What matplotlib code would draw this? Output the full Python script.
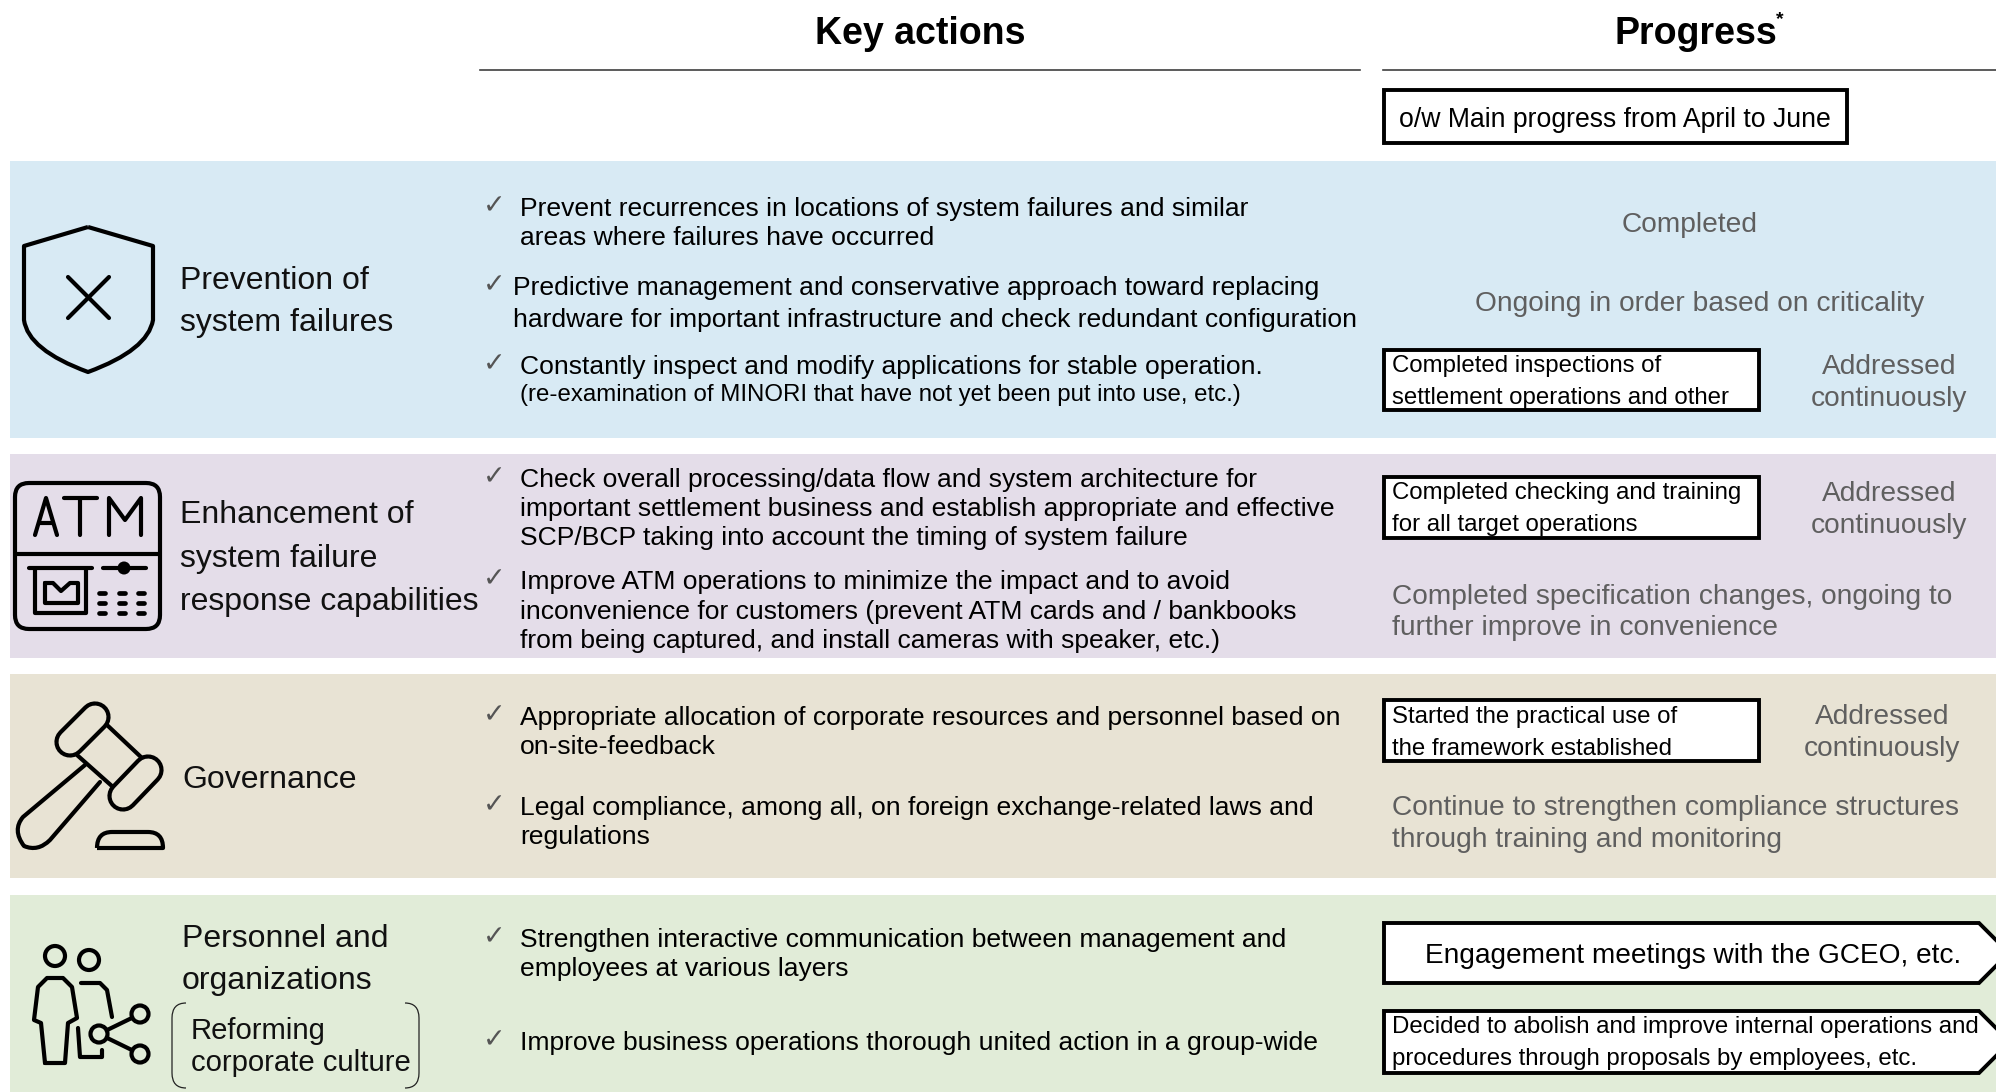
import matplotlib
matplotlib.use('Agg')
import matplotlib.pyplot as plt
from matplotlib.patches import Rectangle, Circle, FancyBboxPatch, Polygon, PathPatch
from matplotlib.path import Path

plt.rcParams['font.family'] = ['Liberation Sans', 'DejaVu Sans']

# colours of the four rows
band_colors = ['#D8EAF4', '#E4DDE9', '#E8E3D4', '#E1ECD8']
band_tops = [161, 454, 674, 895]
band_bottoms = [438, 658, 878, 1092]

# left hand labels
label_lines = ['Prevention of', 'system failures',
               'Enhancement of', 'system failure', 'response capabilities',
               'Governance',
               'Personnel and', 'organizations']
label_x = [180, 180, 180, 180, 180, 182, 182, 182]
label_y = [281, 323, 515, 559, 602, 780, 939, 981]

culture_lines = ['Reforming', 'corporate culture']
culture_y = [1031, 1063]

# key actions, one entry per drawn line
action_lines = [
    'Prevent recurrences in locations of system failures and similar',
    'areas where failures have occurred',
    'Predictive management and conservative approach toward replacing',
    'hardware for important infrastructure and check redundant configuration',
    'Constantly inspect and modify applications for stable operation.',
    'Check overall processing/data flow and system architecture for',
    'important settlement business and establish appropriate and effective',
    'SCP/BCP taking into account the timing of system failure',
    'Improve ATM operations to minimize the impact and to avoid',
    'inconvenience for customers (prevent ATM cards and / bankbooks',
    'from being captured, and install cameras with speaker, etc.)',
    'Appropriate allocation of corporate resources and personnel based on',
    'on-site-feedback',
    'Legal compliance, among all, on foreign exchange-related laws and',
    'regulations',
    'Strengthen interactive communication between management and',
    'employees at various layers',
    'Improve business operations thorough united action in a group-wide',
]
action_x = [520, 520, 513, 513, 520, 520, 520, 520, 520, 520, 520, 520, 520, 520, 520, 520, 520, 520]
action_y = [209, 238, 288, 320, 367, 480, 509, 538, 582, 612, 641, 718, 747, 808, 837, 940, 969, 1043]
note_line = '(re-examination of MINORI that have not yet been put into use, etc.)'
check_y = [206, 285, 364, 477, 579, 715, 805, 937, 1040]

# progress, grey text
grey_center = ['Completed', 'Ongoing in order based on criticality',
               'Addressed', 'continuously', 'Addressed', 'continuously', 'Addressed', 'continuously']
grey_center_x = [1690, 1700, 1889, 1889, 1889, 1889, 1882, 1882]
grey_center_y = [225, 304, 367, 399, 494, 526, 717, 749]
grey_left = ['Completed specification changes, ongoing to', 'further improve in convenience',
             'Continue to strengthen compliance structures', 'through training and monitoring']
grey_left_y = [597, 628, 808, 840]

# progress, text in boxes
box_lines = ['Completed inspections of', 'settlement operations and other',
             'Completed checking and training', 'for all target operations',
             'Started the practical use of', 'the framework established',
             'Decided to abolish and improve internal operations and',
             'procedures through proposals by employees, etc.']
box_line_y = [366, 398, 493, 525, 717, 749, 1027, 1059]
box_tops = [350, 477, 700]
box_bottoms = [410, 538, 761]
arrow_tops = [923, 1011]
arrow_bottoms = [983, 1073]

fig = plt.figure(figsize=(19.96, 10.92), dpi=100)
ax = fig.add_axes([0, 0, 1, 1])
ax.set_xlim(0, 1996)
ax.set_ylim(1092, 0)
ax.axis('off')

BLACK = '#000000'
GREY = '#5F5F5F'
icon_lw = 3.0


def line(pts, lw=icon_lw, color=BLACK, cap='round', z=3):
    ax.plot([p[0] for p in pts], [p[1] for p in pts], color=color, lw=lw,
            solid_capstyle=cap, solid_joinstyle='round', zorder=z)


def circ(x, y, r, fc, lw=icon_lw):
    ax.add_patch(Circle((x, y), r, fc=fc, ec=BLACK, lw=lw, zorder=4))


for top, bot, col in zip(band_tops, band_bottoms, band_colors):
    ax.add_patch(Rectangle((10, top), 1986, bot - top, fc=col, ec='none', zorder=0))

# headers
ax.text(920, 34, 'Key actions', fontsize=27, fontweight='bold', ha='center', va='center', color=BLACK)
ax.text(1615, 34, 'Progress', fontsize=27, fontweight='bold', ha='left', va='center', color=BLACK)
ax.text(1776, 20, '*', fontsize=14, fontweight='bold', ha='left', va='center', color=BLACK)
ax.plot([480, 1360], [70, 70], color='#404040', lw=1.2)
ax.plot([1383, 1996], [70, 70], color='#404040', lw=1.2)

# boxes
ax.add_patch(Rectangle((1384, 90), 463, 53, fc='white', ec=BLACK, lw=2.8, zorder=2))
ax.text(1399, 120, 'o/w Main progress from April to June', fontsize=19.15, va='center', color=BLACK, zorder=5)
for top, bot in zip(box_tops, box_bottoms):
    ax.add_patch(Rectangle((1384, top), 375, bot - top, fc='white', ec=BLACK, lw=2.8, zorder=2))
for top, bot in zip(arrow_tops, arrow_bottoms):
    mid = (top + bot) / 2
    ax.add_patch(Polygon([(1384, top), (1979, top), (1979 + (bot - top) / 2, mid), (1979, bot), (1384, bot)],
                         closed=True, fc='white', ec=BLACK, lw=2.8, zorder=2))

# text
for s, x, y in zip(label_lines, label_x, label_y):
    ax.text(x, y, s, fontsize=23, va='center', color='#111111', zorder=5)
for s, y in zip(culture_lines, culture_y):
    ax.text(191, y, s, fontsize=21.1, va='center', color='#111111', zorder=5)
for s, x, y in zip(action_lines, action_x, action_y):
    ax.text(x, y, s, fontsize=19.07, va='center', color=BLACK, zorder=5)
ax.text(520, 395, note_line, fontsize=17.3, va='center', color=BLACK, zorder=5)
for y in check_y:
    ax.text(483, y, '\u2713', fontsize=19.5, family='DejaVu Sans', va='center', color='#555555', zorder=5)
for s, x, y in zip(grey_center, grey_center_x, grey_center_y):
    ax.text(x, y, s, fontsize=20.25, ha='center', va='center', color=GREY, zorder=5)
for s, y in zip(grey_left, grey_left_y):
    ax.text(1392, y, s, fontsize=20.25, va='center', color=GREY, zorder=5)
for s, y in zip(box_lines, box_line_y):
    ax.text(1392, y, s, fontsize=17.26, va='center', color=BLACK, zorder=5)
ax.text(1425, 956, 'Engagement meetings with the GCEO, etc.', fontsize=20.15, va='center', color=BLACK, zorder=5)

# shield icon
shield = Path([(88, 227), (24, 246), (24, 320), (28, 350), (88, 372), (148, 350), (153, 320), (153, 246), (88, 227)],
              [Path.MOVETO, Path.LINETO, Path.LINETO, Path.CURVE3, Path.CURVE3, Path.CURVE3, Path.CURVE3, Path.LINETO, Path.LINETO])
ax.add_patch(PathPatch(shield, fc='none', ec=BLACK, lw=icon_lw, joinstyle='round', zorder=3))
line([(68, 277), (109, 318)])
line([(109, 277), (68, 318)])

# atm icon
ax.add_patch(FancyBboxPatch((24, 492), 127, 128, boxstyle='round,pad=9,rounding_size=14',
                            fc='none', ec=BLACK, lw=icon_lw, zorder=3))
line([(15, 554), (160, 554)])
line([(35, 535), (46, 498), (57, 535)])
line([(39, 523), (53, 523)])
line([(64, 498), (97, 498)])
line([(80, 498), (80, 535)])
line([(109, 535), (109, 498), (125, 520), (141, 498), (141, 535)])
line([(29, 568), (92, 568)])
line([(35, 568), (35, 613), (86, 613), (86, 568)])
line([(45, 583), (45, 603), (78, 603), (78, 583), (70, 583), (61, 591), (53, 583), (45, 583)])
line([(103, 568), (146, 568)])
ax.add_patch(Circle((124, 568), 6.5, fc=BLACK, ec='none', zorder=4))
for dy in (593, 603, 613):
    for dx in (102, 122, 141):
        line([(dx - 3, dy), (dx + 3, dy)], lw=3.4)

# gavel icon
handle = Path([(85, 765), (23, 817), (12, 830), (24, 846), (38, 852), (50, 840), (100, 782)],
              [Path.MOVETO, Path.LINETO, Path.CURVE3, Path.CURVE3, Path.CURVE3, Path.CURVE3, Path.LINETO])
ax.add_patch(PathPatch(handle, fc='none', ec=BLACK, lw=icon_lw, capstyle='round', joinstyle='round', zorder=3))
line([(107, 725), (142, 758)])
line([(77, 755), (113, 787)])
for a, b in [((95, 717), (70, 742)), ((148, 770), (123, 796))]:
    line([a, b], lw=22.5, z=3)
    line([a, b], lw=16.5, color=band_colors[2], z=4)
blk = Path([(97, 848), (163, 848), (163, 832), (148, 832), (112, 832), (97, 832), (97, 848)],
           [Path.MOVETO, Path.LINETO, Path.CURVE3, Path.CURVE3, Path.LINETO, Path.CURVE3, Path.CURVE3])
ax.add_patch(PathPatch(blk, fc='none', ec=BLACK, lw=icon_lw, joinstyle='round', zorder=3))

# people icon
circ(55, 956, 10, 'none')
circ(89, 960, 10, 'none')
line([(45, 1063), (41, 1023), (34, 1020), (38, 987), (47, 978), (63, 978), (72, 987), (77, 1018), (68, 1023), (65, 1063), (45, 1063)])
line([(81, 983), (100, 983), (107, 990), (112, 1017)])
line([(78, 1028), (80, 1057), (102, 1057), (102, 1050)])
line([(99, 1034), (140, 1014)])
line([(99, 1034), (140, 1054)])
circ(99, 1034, 8.5, band_colors[3])
circ(140, 1014, 8.5, band_colors[3])
circ(140, 1054, 8.5, band_colors[3])

# brackets round corporate culture
left_b = Path([(186, 1003), (172, 1003), (172, 1018), (172, 1073), (172, 1088), (186, 1088)],
              [Path.MOVETO, Path.CURVE3, Path.CURVE3, Path.LINETO, Path.CURVE3, Path.CURVE3])
right_b = Path([(405, 1003), (419, 1003), (419, 1018), (419, 1073), (419, 1088), (405, 1088)],
               [Path.MOVETO, Path.CURVE3, Path.CURVE3, Path.LINETO, Path.CURVE3, Path.CURVE3])
for p in (left_b, right_b):
    ax.add_patch(PathPatch(p, fc='none', ec='#222222', lw=0.9, zorder=3))

fig.savefig('out.png', dpi=100)
